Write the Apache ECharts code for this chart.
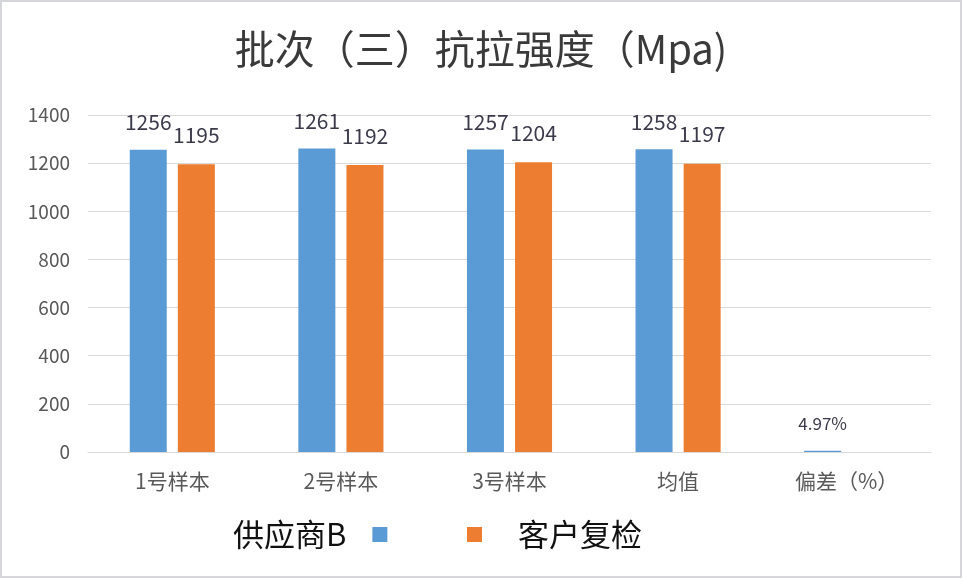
<!DOCTYPE html>
<html>
<head>
<meta charset="utf-8">
<title>批次（三）抗拉强度</title>
<script src="https://cdn.jsdelivr.net/npm/echarts@6/dist/echarts.min.js"></script>
<style>
  html, body { margin: 0; padding: 0; background: #fff; }
  #wrap { position: relative; width: 962px; height: 578px; }
  #chart { width: 962px; height: 578px; }
  /* 外框只是叠在上面，不占图表的位置 */
  #wrap::after { content: ''; position: absolute; left: 0; top: 0; right: 0; bottom: 0;
    border: 2px solid #d4d6da; pointer-events: none; }
</style>
</head>
<body>
<div id="wrap"><div id="chart"></div></div>
<script>
  // 数据
  var categories = ['1号样本', '2号样本', '3号样本', '均值', '偏差（%）'];
  var supplierB = [1256, 1261, 1257, 1258, 4.97];
  var customerCheck = [1195, 1192, 1204, 1197, '-'];
  var yTicks = { min: 0, max: 1400, interval: 200 };

  var font = 'Noto Sans CJK SC';
  var chart = echarts.init(document.getElementById('chart'));

  // 偏差那一格的标签带 % 号，字小一点
  var blueData = supplierB.map(function (v, i) {
    if (i === 4) return { value: v, label: { fontSize: 17, distance: 19 } };
    return v;
  });

  var option = {
    backgroundColor: '#fff',
    animation: false,
    title: {
      text: '批次（三）抗拉强度（Mpa)',
      left: 'center',
      top: 24,
      textStyle: { fontFamily: font, fontSize: 40, fontWeight: 'normal', color: '#3a3a3a' }
    },
    legend: [
      {
        data: ['供应商B'],
        left: 228,
        top: 514,
        align: 'right',
        icon: 'rect',
        itemWidth: 15,
        itemHeight: 15,
        textStyle: { fontFamily: font, fontSize: 31, color: '#111', padding: [0, 21, 0, 0] }
      },
      {
        data: ['客户复检'],
        left: 462,
        top: 514,
        align: 'left',
        icon: 'rect',
        itemWidth: 15,
        itemHeight: 15,
        textStyle: { fontFamily: font, fontSize: 31, color: '#111', padding: [0, 0, 0, 31] }
      }
    ],
    grid: { left: 88, right: 31, top: 115, bottom: 126, containLabel: false },
    xAxis: {
      type: 'category',
      data: categories,
      axisLine: { lineStyle: { color: '#d9d9d9', width: 1 } },
      axisTick: { show: false },
      axisLabel: { fontFamily: font, fontSize: 21, color: '#595959', margin: 19 }
    },
    yAxis: {
      type: 'value',
      min: yTicks.min,
      max: yTicks.max,
      interval: yTicks.interval,
      axisLine: { show: false },
      axisTick: { show: false },
      axisLabel: {
        fontFamily: font, fontSize: 19, color: '#595959', margin: 18,
        formatter: function (v) { return String(v); }
      },
      splitLine: { lineStyle: { color: '#d9d9d9', width: 1 } }
    },
    series: [
      {
        name: '供应商B',
        type: 'bar',
        data: blueData,
        barWidth: 37,
        barGap: '30%',
        itemStyle: { color: '#5b9bd5' },
        label: {
          show: true,
          position: 'top',
          distance: 17,
          fontFamily: font,
          fontSize: 21,
          color: '#3a3a4a',
          formatter: function (p) { return p.dataIndex === 4 ? p.value + '%' : p.value; }
        }
      },
      {
        name: '客户复检',
        type: 'bar',
        data: customerCheck,
        barWidth: 37,
        itemStyle: { color: '#ed7d31' },
        label: {
          show: true,
          position: 'top',
          distance: 19,
          fontFamily: font,
          fontSize: 21,
          color: '#3a3a4a'
        }
      }
    ]
  };
  chart.setOption(option);
</script>
</body>
</html>
